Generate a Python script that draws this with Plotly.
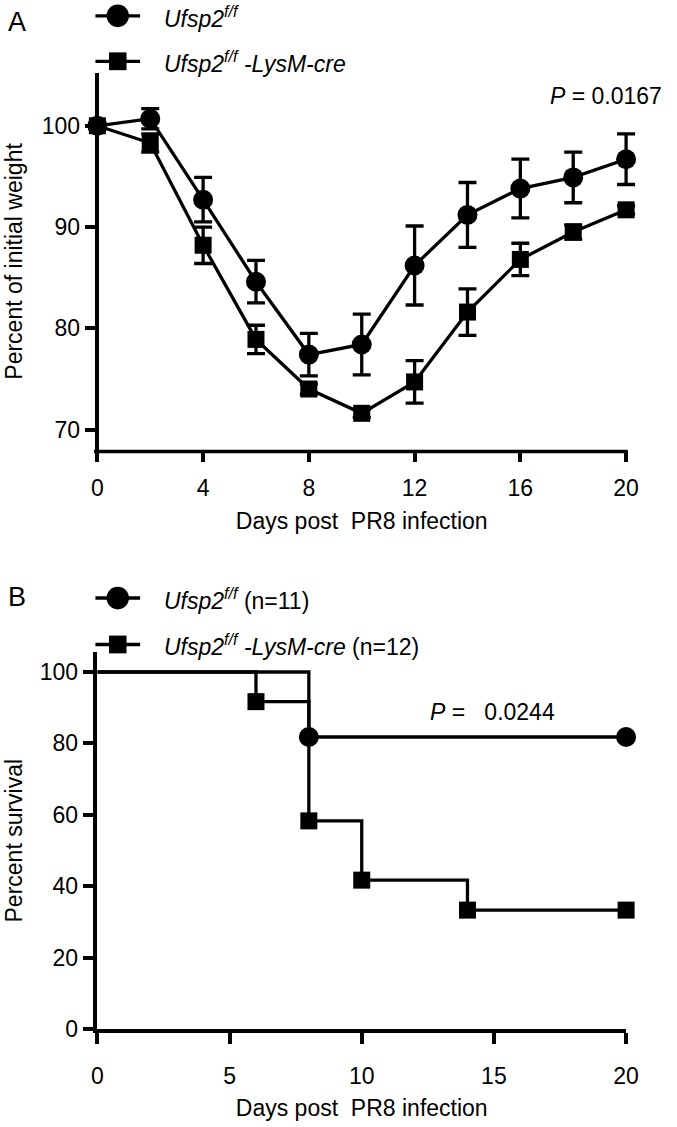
import plotly.graph_objects as go

W, H = 677, 1127

# ---------------- Data: panel A (weight) ----------------
days = [0, 2, 4, 6, 8, 10, 12, 14, 16, 18, 20]
ff_weight = [100, 100.7, 92.7, 84.6, 77.4, 78.4, 86.2, 91.2, 93.8, 94.9, 96.7]
ff_sem = [0, 1.0, 2.2, 2.1, 2.1, 3.0, 3.9, 3.2, 2.9, 2.5, 2.5]
cre_weight = [100, 98.3, 88.2, 78.9, 74.0, 71.6, 74.7, 81.6, 86.8, 89.5, 91.7]
cre_sem = [0, 0.9, 1.8, 1.4, 0.5, 0.4, 2.1, 2.3, 1.6, 0.7, 0.4]

# ---------------- Data: panel B (survival) ----------------
ff_time = [0, 8, 20]
ff_surv = [100, 81.8, 81.8]
ff_mark = [0, 1, 1]
cre_time = [0, 6, 8, 10, 14, 20]
cre_surv = [100, 91.7, 58.3, 41.7, 33.3, 33.3]
cre_mark = [0, 1, 1, 1, 1, 1]

weight_xticks = [0, 4, 8, 12, 16, 20]
weight_yticks = [70, 80, 90, 100]
surv_xticks = [0, 5, 10, 15, 20]
surv_yticks = [0, 20, 40, 60, 80, 100]

FONT = "Liberation Sans, Arial, Helvetica, sans-serif"
FS = 23
LW = 3.3
ALW = 3.5
CIRC = 20
SQ = 17
NB = "\u00a0"
XTITLE = "Days post" + NB + " PR8 infection"


def px(x):
    return x / W


def py(y):
    return 1 - y / H


X0, X1 = 94, 638          # pixel positions of day 0 and day 20
PAD = 20                  # extra room so error-bar caps at the edges are not clipped
DPP = 20 / (X1 - X0)      # days per pixel
A_BOTTOM, A_TOP = 455, 74

fig = go.Figure()

# Panel A traces
fig.add_trace(go.Scatter(
    x=days, y=ff_weight, mode="lines+markers", name="Ufsp2 f/f",
    line=dict(color="black", width=LW),
    marker=dict(symbol="circle", size=CIRC, color="black", opacity=1),
    error_y=dict(type="data", array=ff_sem, visible=True, color="black", thickness=LW, width=9),
    cliponaxis=False, xaxis="x", yaxis="y", showlegend=False))
fig.add_trace(go.Scatter(
    x=days, y=cre_weight, mode="lines+markers", name="Ufsp2 f/f -LysM-cre",
    line=dict(color="black", width=LW),
    marker=dict(symbol="square", size=SQ, color="black", opacity=1),
    error_y=dict(type="data", array=cre_sem, visible=True, color="black", thickness=LW, width=9),
    cliponaxis=False, xaxis="x", yaxis="y", showlegend=False))

# Panel B traces (Kaplan-Meier steps)
fig.add_trace(go.Scatter(
    x=ff_time, y=ff_surv, mode="lines+markers", name="Ufsp2 f/f (n=11)",
    line=dict(color="black", width=LW, shape="hv"),
    marker=dict(symbol="circle", size=[CIRC * m for m in ff_mark], color="black", opacity=1,
                line=dict(width=0)),
    cliponaxis=False, xaxis="x2", yaxis="y2", showlegend=False))
fig.add_trace(go.Scatter(
    x=cre_time, y=cre_surv, mode="lines+markers", name="Ufsp2 f/f -LysM-cre (n=12)",
    line=dict(color="black", width=LW, shape="hv"),
    marker=dict(symbol="square", size=[SQ * m for m in cre_mark], color="black", opacity=1,
                line=dict(width=0)),
    cliponaxis=False, xaxis="x2", yaxis="y2", showlegend=False))

tick_common = dict(
    ticks="outside", ticklen=11, tickwidth=ALW, tickcolor="black",
    showgrid=False, zeroline=False,
    tickfont=dict(family=FONT, size=FS, color="black"),
)
axis_common = dict(showline=True, linecolor="black", linewidth=ALW, **tick_common)

fig.update_layout(
    width=W, height=H,
    margin=dict(l=0, r=0, t=0, b=0),
    paper_bgcolor="white", plot_bgcolor="white",
    font=dict(family=FONT, size=FS, color="black"),
    # panel A: x axis a bit wider than 0..20 so caps at the ends are not clipped;
    # its baseline is drawn as a shape from day 0 to day 20.
    xaxis=dict(domain=[px(X0 - PAD), px(X1 + PAD)],
               range=[-PAD * DPP, 20 + PAD * DPP],
               tickvals=weight_xticks, anchor="y", showline=False,
               ticklabelstandoff=7,
               title=dict(text=XTITLE, standoff=12, font=dict(family=FONT, size=FS)),
               **tick_common),
    yaxis=dict(domain=[py(A_BOTTOM), py(A_TOP)], range=[68, 105.2], tickvals=weight_yticks,
               anchor="free", position=px(X0),
               title=dict(text="Percent of initial weight", standoff=12,
                          font=dict(family=FONT, size=FS)),
               **axis_common),
    xaxis2=dict(domain=[px(X0), px(X1)], range=[0, 20], tickvals=surv_xticks, anchor="y2",
                ticklabelstandoff=13,
                title=dict(text=XTITLE, standoff=13, font=dict(family=FONT, size=FS)),
                **axis_common),
    yaxis2=dict(domain=[py(1041), py(660)], range=[0, 105.5], tickvals=surv_yticks, anchor="x2",
                title=dict(text="Percent survival", standoff=12,
                           font=dict(family=FONT, size=FS)),
                **axis_common),
)

shapes = []
annots = []

# panel A x-axis baseline (from day 0 to day 20)
shapes.append(dict(type="line", xref="x", yref="paper",
                   x0=weight_xticks[0] - ALW * DPP, x1=weight_xticks[-1] + ALW / 2 * DPP,
                   y0=py(A_BOTTOM + ALW / 2), y1=py(A_BOTTOM + ALW / 2),
                   line=dict(color="black", width=ALW), layer="above"))


# ---------- Legends drawn as glyphs + text ----------
def legend_row(cx, cy, symbol, text):
    shapes.append(dict(type="line", xref="paper", yref="paper",
                       x0=px(cx - 23), x1=px(cx + 23), y0=py(cy), y1=py(cy),
                       line=dict(color="black", width=LW)))
    if symbol == "circle":
        r = 11.5
        shapes.append(dict(type="circle", xref="paper", yref="paper",
                           x0=px(cx - r), x1=px(cx + r), y0=py(cy + r), y1=py(cy - r),
                           fillcolor="black", line=dict(width=0)))
    else:
        r = 9
        shapes.append(dict(type="rect", xref="paper", yref="paper",
                           x0=px(cx - r), x1=px(cx + r), y0=py(cy + r), y1=py(cy - r),
                           fillcolor="black", line=dict(width=0)))
    annots.append(dict(xref="paper", yref="paper", x=px(161), y=py(cy + 1),
                       xanchor="left", yanchor="middle", showarrow=False,
                       text=text, font=dict(family=FONT, size=23, color="black")))


legend_row(115, 16, "circle", "<i>Ufsp2<sup>f/f</sup></i>")
legend_row(115, 62, "square", "<i>Ufsp2<sup>f/f</sup> -LysM-cre</i>")
legend_row(115, 605, "circle", "<i>Ufsp2<sup>f/f</sup></i> (n=11)")
legend_row(115, 652, "square", "<i>Ufsp2<sup>f/f</sup> -LysM-cre</i> (n=12)")

# Panel letters
annots.append(dict(xref="paper", yref="paper", x=px(0), y=py(22), xanchor="left", yanchor="middle",
                   showarrow=False, text="A", font=dict(family=FONT, size=27, color="black")))
annots.append(dict(xref="paper", yref="paper", x=px(0), y=py(604), xanchor="left", yanchor="middle",
                   showarrow=False, text="B", font=dict(family=FONT, size=27, color="black")))

# P values
annots.append(dict(xref="paper", yref="paper", x=px(677), y=py(97), xanchor="right", yanchor="middle",
                   showarrow=False, text="<i>P</i> = 0.0167",
                   font=dict(family=FONT, size=FS, color="black")))
annots.append(dict(xref="paper", yref="paper", x=px(434), y=py(720), xanchor="left", yanchor="middle",
                   showarrow=False, text="<i>P</i> =" + NB + NB + " 0.0244",
                   font=dict(family=FONT, size=FS, color="black")))

fig.update_layout(shapes=shapes, annotations=annots)

fig.write_html("out.html", config={"displayModeBar": False},
               post_script="document.body.style.margin='0';")
